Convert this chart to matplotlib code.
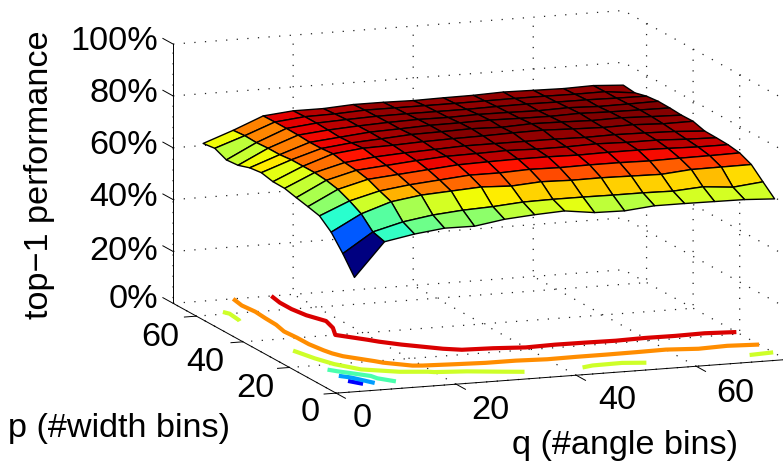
# surface of top-1 performance over the descriptor bins, with contours on the floor
import numpy as np
import matplotlib
matplotlib.use('Agg')
import matplotlib.pyplot as plt
from matplotlib.colors import Normalize

plt.rcParams['font.family'] = ['Liberation Sans', 'DejaVu Sans']

q_bins = [5, 10, 15, 20, 25, 30, 35, 40, 45, 50, 55, 60, 65, 70, 75]
p_bins = [5, 10, 15, 20, 25, 30, 35, 40, 45, 50, 55, 60, 65, 70]

row_p05 = [41.3, 54.2, 56.3, 57.7, 57.6, 59.4, 60.3, 60.9, 59.4, 59.2, 60.3, 60.3, 60.2, 60.1, 59.5]
row_p10 = [48.0, 55.5, 58.5, 60.3, 61.3, 61.8, 62.7, 62.9, 62.9, 62.8, 62.8, 62.6, 63.4, 62.4, 63.6]
row_p15 = [53.8, 60.0, 63.8, 65.5, 66.2, 66.9, 66.4, 67.2, 66.9, 67.0, 66.8, 66.6, 67.6, 67.7, 67.8]
row_p20 = [57.6, 62.5, 65.5, 67.0, 68.0, 69.0, 69.0, 69.5, 69.3, 69.5, 69.5, 69.3, 69.5, 69.6, 69.8]
row_p25 = [58.7, 64.5, 67.5, 68.5, 69.5, 70.5, 70.8, 71.0, 71.0, 70.8, 71.0, 71.0, 70.8, 70.5, 70.5]
row_p30 = [59.7, 65.5, 68.5, 69.5, 70.5, 71.3, 71.5, 71.8, 71.5, 71.5, 71.8, 71.5, 71.5, 71.0, 70.7]
row_p35 = [60.8, 66.0, 69.0, 70.3, 71.0, 71.5, 72.0, 72.0, 72.0, 72.0, 71.8, 72.0, 71.8, 71.5, 70.8]
row_p40 = [60.9, 66.0, 69.9, 71.2, 71.5, 72.0, 72.3, 72.5, 72.8, 73.0, 72.6, 72.3, 72.5, 72.0, 72.1]
row_p45 = [61.9, 66.0, 69.5, 70.8, 71.5, 72.3, 72.5, 72.8, 72.5, 73.0, 72.8, 72.5, 72.7, 72.3, 72.0]
row_p50 = [61.3, 65.5, 69.4, 70.5, 71.6, 72.0, 72.5, 72.6, 72.8, 72.6, 72.5, 72.8, 72.5, 72.4, 72.3]
row_p55 = [59.8, 65.5, 69.7, 70.8, 71.5, 72.0, 72.3, 72.2, 72.5, 72.4, 72.2, 72.5, 72.1, 72.2, 72.4]
row_p60 = [59.4, 65.2, 69.8, 71.0, 71.5, 71.9, 72.0, 72.0, 72.0, 72.2, 72.3, 72.2, 72.2, 72.0, 71.9]
row_p65 = [61.4, 65.4, 69.8, 71.0, 71.2, 71.8, 71.8, 71.8, 71.8, 71.9, 72.0, 72.0, 71.9, 72.0, 70.7]
row_p70 = [60.8, 65.0, 69.7, 70.8, 70.8, 71.5, 71.5, 71.3, 71.5, 71.6, 72.0, 71.8, 71.6, 71.9, 71.2]

contour_levels = [45, 50, 55, 60, 65, 70]

q_ticks = [0, 20, 40, 60]
p_ticks = [0, 20, 40, 60]
z_ticks = [0, 20, 40, 60, 80, 100]
z_labels = ['0%', '20%', '40%', '60%', '80%', '100%']

Z = np.array([row_p05, row_p10, row_p15, row_p20, row_p25, row_p30, row_p35,
              row_p40, row_p45, row_p50, row_p55, row_p60, row_p65, row_p70])
Q, P = np.meshgrid(q_bins, p_bins)

W, H = 783, 461
fig = plt.figure(figsize=(W / 100, H / 100), dpi=100)

# box edges in pixels, worked out from the tick positions in the picture
box_px = np.array([6.414 * 75, 6.762 * 70, 2.655 * 100])
side = 1.9 * np.linalg.norm(box_px) / (1.8294640721620434 * 25 / 24) / 1.03
cx, cy = 470.2, 211.3
ax = fig.add_axes([(cx - side / 2) / W, (H - cy - side / 2) / H, side / W, side / H],
                  projection='3d', proj_type='ortho')
ax.view_init(elev=11.7, azim=-110.2)
ax.set_box_aspect(box_px)
ax.set_xlim(0, 75)
ax.set_ylim(0, 70)
ax.set_zlim(0, 100)

norm = Normalize(41.3, 72.5)
jet = plt.get_cmap('jet')
ax.plot_surface(Q, P, Z, rstride=1, cstride=1, facecolors=jet(norm(Z)), shade=False,
                edgecolor='k', linewidth=1.0, antialiased=True)
ax.contour(Q, P, Z, levels=contour_levels, zdir='z', offset=0, cmap=jet, norm=norm, linewidths=3.0)

ax.set_xticks(q_ticks)
ax.set_yticks(p_ticks)
ax.set_zticks(z_ticks)
ax.set_xticklabels([])
ax.set_yticklabels([])
ax.set_zticklabels([])
ax.zaxis.set_ticks_position('upper')
for axis in (ax.xaxis, ax.yaxis, ax.zaxis):
    axis.pane.set_visible(False)
    axis.line.set_color('k')
    axis.line.set_linewidth(0.7)
    axis._axinfo['grid'].update(color='#222222', linewidth=0.9, linestyle=(0, (1, 7.5)))
    axis._axinfo['tick'].update(inward_factor=0.0, outward_factor=0.0)
ax.grid(True)

# the tick marks stick out along the neighbouring axis, as in matlab
for t in q_ticks:
    ax.plot([t, t], [0, -4], [0, 0], color='k', lw=0.7)
for t in p_ticks:
    ax.plot([0, -2], [t, t], [0, 0], color='k', lw=0.7)
for t in z_ticks:
    ax.plot([0, 0], [70, 74.4], [t, t], color='k', lw=0.7)


def label(x, y, s, **kw):
    fig.text(x / W, 1 - y / H, s, fontsize=24.7, color='k', **kw)


for y, s in zip([299, 251, 198, 146, 94, 41], z_labels):
    label(158, y, s, ha='right', va='center')
for (x, y), t in zip([(310, 412), (255, 388), (205, 362), (160, 337)], p_ticks):
    label(x, y, str(t), ha='center', va='center')
for (x, y), t in zip([(362, 418), (490, 410), (617, 400), (735, 393)], q_ticks):
    label(x, y, str(t), ha='center', va='center')
label(40, 175, 'top\u22121 performance', rotation=90, ha='center', va='center')
label(119, 428, 'p (#width bins)', ha='center', va='center')
label(625, 445, 'q (#angle bins)', ha='center', va='center')

fig.savefig('out.png', dpi=100)
